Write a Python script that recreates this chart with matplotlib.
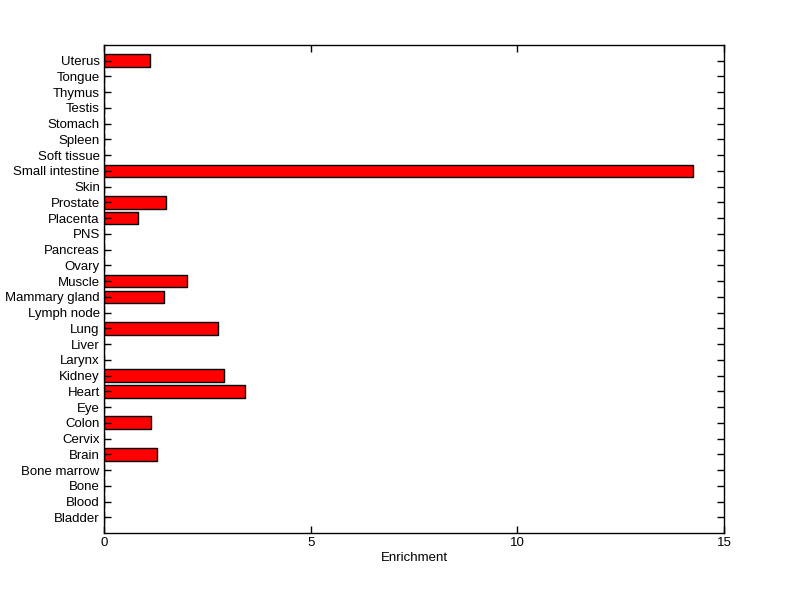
import matplotlib
matplotlib.use("Agg")
import matplotlib.pyplot as plt

# Tissue enrichment values (bottom to top)
tissues = ["Bladder", "Blood", "Bone", "Bone marrow", "Brain", "Cervix", "Colon",
           "Eye", "Heart", "Kidney", "Larynx", "Liver", "Lung", "Lymph node",
           "Mammary gland", "Muscle", "Ovary", "Pancreas", "PNS", "Placenta",
           "Prostate", "Skin", "Small intestine", "Soft tissue", "Spleen",
           "Stomach", "Testis", "Thymus", "Tongue", "Uterus"]
enrichment = [0, 0, 0, 0, 1.29, 0, 1.13,
              0, 3.40, 2.90, 0, 0, 2.77, 0,
              1.44, 2.02, 0, 0, 0, 0.83,
              1.51, 0, 14.24, 0, 0,
              0, 0, 0, 0, 1.11]
x_ticks = [0, 5, 10, 15]

plt.rcParams['font.family'] = ['Liberation Sans', 'DejaVu Sans']
plt.rcParams['font.size'] = 9.5

fig = plt.figure(figsize=(8, 5.99), dpi=100)
ax = fig.add_axes([0.13, 0.1102, 0.775, 0.8147])

pos = list(range(1, len(tissues) + 1))
ax.barh(pos, enrichment, height=0.8, color='#ff0000', edgecolor='black', linewidth=1)

ax.set_xlim(0, 15)
ax.set_ylim(0, len(tissues) + 1)
ax.set_xticks(x_ticks)
ax.set_yticks(pos)
ax.set_yticklabels(tissues)
ax.set_xlabel("Enrichment", labelpad=2)

ax.tick_params(direction='in', length=5, width=1, top=True, right=True, pad=3)
for s in ax.spines.values():
    s.set_linewidth(1)

fig.savefig("out.png", dpi=100)
